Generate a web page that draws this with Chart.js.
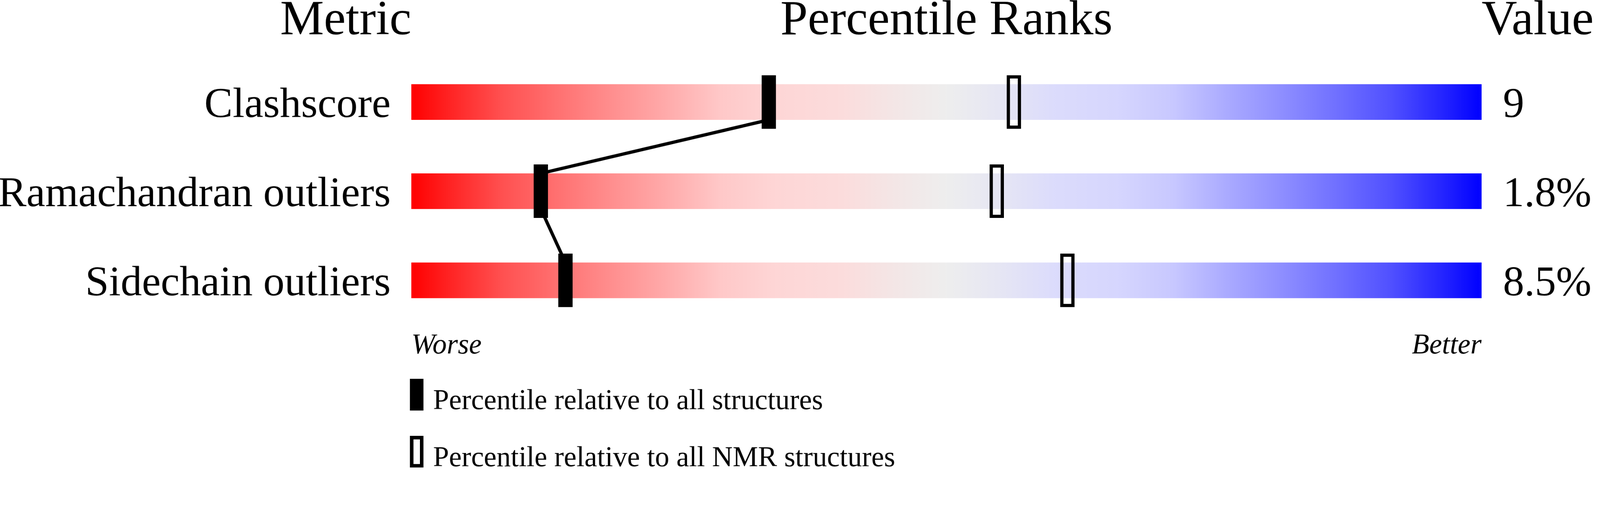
<!DOCTYPE html>
<html>
<head>
<meta charset="utf-8">
<title>Percentile Ranks</title>
<script src="https://cdn.jsdelivr.net/npm/chart.js@4.4.1/dist/chart.umd.min.js"></script>
<style>
  html, body { margin: 0; padding: 0; background: #fff; overflow: hidden; }
  #wrap { width: 4485px; height: 1311px; transform-origin: 0 0; }
</style>
</head>
<body>
<div id="wrap"><canvas id="chart" width="4485" height="1311"></canvas></div>
<script>
// Valores
const metrics = ['Clashscore', 'Ramachandran outliers', 'Sidechain outliers'];
const metricValues = ['9', '1.8%', '8.5%'];
const pctAll = [33.4, 12.1, 14.4];   // relativo a todas as estruturas (marcador cheio)
const pctNmr = [56.3, 54.7, 61.3];   // relativo a estruturas NMR (marcador vazado)
const trackRange = [0, 100];
const endLabels = ['Worse', 'Better'];
const headers = ['Metric', 'Percentile Ranks', 'Value'];
const legendLabels = ['Percentile relative to all structures', 'Percentile relative to all NMR structures'];

const SERIF = '"Liberation Serif", "Times New Roman", serif';
const BAR_PCT = 0.4;
const BAR_HALF = BAR_PCT / 2;

// ajusta a tela de 4485px à janela real
const wrap = document.getElementById('wrap');
const fit = window.innerWidth / 4485;
if (Math.abs(fit - 1) > 0.001) wrap.style.transform = `scale(${fit})`;

// degradê vermelho -> cinza -> azul (simétrico)
const GRADIENT = [
    [0.000, '#ff0000'], [0.034, '#ff2222'], [0.084, '#ff5050'], [0.135, '#ff7070'],
    [0.186, '#ff8e8e'], [0.237, '#ffaaaa'], [0.288, '#ffc8c8'], [0.340, '#fed6d6'],
    [0.400, '#fcdcdc'], [0.450, '#f4e6e6'], [0.500, '#eeeeee'], [0.550, '#e6e6f4'],
    [0.600, '#dcdcfc'], [0.660, '#d6d6fe'], [0.712, '#c8c8ff'], [0.763, '#aaaaff'],
    [0.814, '#8e8eff'], [0.865, '#7070ff'], [0.916, '#5050ff'], [0.966, '#2222ff'],
    [1.000, '#0000ff']
];

function markerCanvas(filled) {
    const c = document.createElement('canvas');
    c.width = 40;
    c.height = 150;
    const g = c.getContext('2d');
    g.fillStyle = '#000';
    g.strokeStyle = '#000';
    if (filled) {
        g.fillRect(0, 0, c.width, c.height);
    } else {
        g.lineWidth = 9;
        g.strokeRect(4.5, 4.5, c.width - 9, c.height - 9);
    }
    return c;
}
const solidMarker = markerCanvas(true);
const openMarker = markerCanvas(false);

const trackFill = (ctx) => {
    const chart = ctx.chart;
    if (!chart.chartArea) return '#eeeeee';
    const x = chart.scales.x;
    const g = chart.ctx.createLinearGradient(x.getPixelForValue(trackRange[0]), 0, x.getPixelForValue(trackRange[1]), 0);
    GRADIENT.forEach(([o, c]) => g.addColorStop(o, c));
    return g;
};

// linha ligando os marcadores cheios (da borda inferior de uma barra à superior da próxima)
const linkPoints = [];
pctAll.forEach((p, i) => {
    if (i > 0) linkPoints.push({ x: p, y: i - BAR_HALF });
    if (i < pctAll.length - 1) linkPoints.push({ x: p, y: i + BAR_HALF });
});

const headerPlugin = {
    id: 'headers',
    afterDraw(chart) {
        const { ctx, chartArea: a } = chart;
        ctx.save();
        ctx.fillStyle = '#000';
        ctx.strokeStyle = '#000';
        ctx.textBaseline = 'alphabetic';
        ctx.font = '138px ' + SERIF;
        const y = a.top - 65;
        ctx.textAlign = 'right';
        ctx.fillText(headers[0], a.left, y);
        ctx.textAlign = 'center';
        ctx.fillText(headers[1], (a.left + a.right) / 2, y);
        ctx.textAlign = 'left';
        ctx.fillText(headers[2], a.right, y);

        // legenda
        ctx.font = '80px ' + SERIF;
        legendLabels.forEach((t, i) => {
            const top = a.bottom + 151 + i * 160;
            const left = a.left - 4;
            if (i === 0) {
                ctx.fillRect(left, top, 38, 89);
            } else {
                ctx.lineWidth = 10;
                ctx.strokeRect(left + 5, top + 5, 28, 79);
            }
            ctx.fillText(t, a.left + 61, a.bottom + 236 + i * 160);
        });
        ctx.restore();
    }
};

const noGrid = { display: false };
const noBorder = { display: false };

new Chart(document.getElementById('chart'), {
    type: 'bar',
    data: {
        labels: metrics,
        datasets: [
            {
                label: 'NMR',
                type: 'scatter',
                data: pctNmr.map((p, i) => ({ x: p, y: i })),
                xAxisID: 'x',
                yAxisID: 'y2',
                pointStyle: openMarker,
                pointRadius: 20,
                order: 0
            },
            {
                label: 'All',
                type: 'scatter',
                data: pctAll.map((p, i) => ({ x: p, y: i })),
                xAxisID: 'x',
                yAxisID: 'y2',
                pointStyle: solidMarker,
                pointRadius: 20,
                order: 0
            },
            {
                label: 'link',
                type: 'scatter',
                data: linkPoints,
                xAxisID: 'x',
                yAxisID: 'y2',
                showLine: true,
                borderColor: '#000',
                borderWidth: 9,
                pointRadius: 0,
                order: 1
            },
            {
                label: 'track',
                data: metrics.map(() => trackRange),
                xAxisID: 'x',
                yAxisID: 'y',
                backgroundColor: trackFill,
                borderWidth: 0,
                grouped: false,
                barPercentage: BAR_PCT,
                categoryPercentage: 1,
                order: 2
            }
        ]
    },
    options: {
        indexAxis: 'y',
        responsive: false,
        devicePixelRatio: 1,
        animation: false,
        events: [],
        layout: { padding: { top: 161, bottom: 310, left: 0, right: 0 } },
        plugins: { legend: { display: false }, tooltip: { enabled: false } },
        scales: {
            x: {
                type: 'linear',
                position: 'bottom',
                min: trackRange[0],
                max: trackRange[1],
                offset: false,
                grid: noGrid,
                border: noBorder,
                afterBuildTicks: (s) => { s.ticks = trackRange.map(v => ({ value: v })); },
                afterFit: (s) => { s.height = 90; },
                ticks: {
                    callback: (v, i) => endLabels[i],
                    align: 'inner',
                    padding: 3,
                    maxRotation: 0,
                    autoSkip: false,
                    color: '#000',
                    font: { family: SERIF, size: 80, style: 'italic' }
                }
            },
            y: {
                type: 'category',
                position: 'left',
                offset: true,
                grid: noGrid,
                border: noBorder,
                afterFit: (s) => { s.width = 1153; },
                ticks: { padding: 50, labelOffset: 11, color: '#000', font: { family: SERIF, size: 119 } }
            },
            yv: {
                type: 'category',
                position: 'right',
                offset: true,
                labels: metricValues,
                grid: noGrid,
                border: noBorder,
                afterFit: (s) => { s.width = 332; },
                ticks: { padding: 52, labelOffset: 11, color: '#000', font: { family: SERIF, size: 119 } }
            },
            y2: {
                type: 'linear',
                display: false,
                offset: false,
                grace: 0,
                min: -0.5,
                max: metrics.length - 0.5,
                reverse: true
            }
        }
    },
    plugins: [headerPlugin]
});
</script>
</body>
</html>
